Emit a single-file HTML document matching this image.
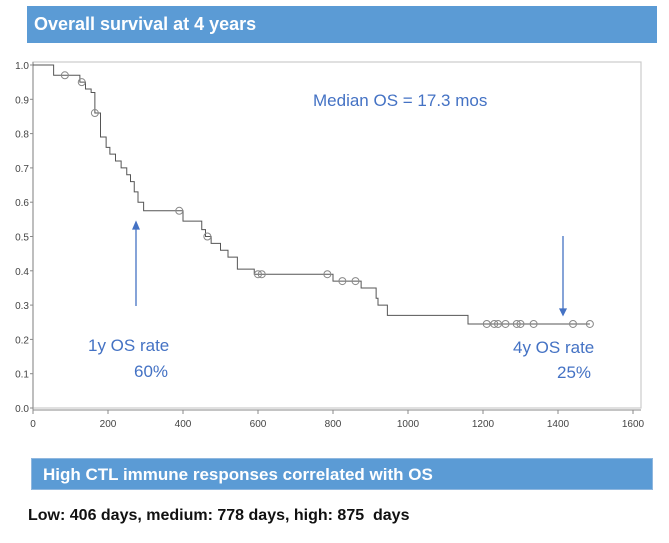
<!DOCTYPE html>
<html><head><meta charset="utf-8"><style>
body{margin:0;width:669px;height:543px;background:#fff;position:relative;overflow:hidden;font-family:"Liberation Sans",sans-serif}
.bar{position:absolute;background:#5b9bd5;color:#fff;font-weight:bold;box-sizing:border-box}
</style></head><body>
<div class="bar" style="left:27px;top:6px;width:630px;height:37px;font-size:18px;line-height:37px;padding-left:7px">Overall survival at 4 years</div>
<svg id="chart" width="669" height="543" style="position:absolute;left:0;top:0"></svg>
<div class="bar" style="left:31px;top:458px;width:622px;height:32px;font-size:17px;line-height:32px;padding-left:11px;border:1px solid #8fb7df">High CTL immune responses correlated with OS</div>
<div style="position:absolute;left:28px;top:507px;font-size:16px;font-weight:bold;color:#111">Low: 406 days, medium: 778 days, high: 875&nbsp; days</div>
<script>
const xTicks=[0,200,400,600,800,1000,1200,1400,1600];
const yTicks=["0.0","0.1","0.2","0.3","0.4","0.5","0.6","0.7","0.8","0.9","1.0"];
const stepTimes=[0,55,125,140,155,165,180,195,205,220,235,250,260,270,280,295,400,450,460,475,500,520,545,590,800,875,915,920,945,1160];
const stepSurv=[1.0,0.97,0.95,0.93,0.92,0.86,0.79,0.76,0.74,0.72,0.70,0.68,0.66,0.63,0.60,0.575,0.545,0.52,0.50,0.48,0.46,0.44,0.405,0.39,0.37,0.35,0.32,0.30,0.27,0.245];
const censorTimes=[85,130,165,390,465,600,610,785,825,860,1210,1230,1240,1260,1290,1300,1335,1440,1485];
const endTime=1485;
const NS="http://www.w3.org/2000/svg";
const svg=document.getElementById('chart');
const X=t=>33+t*600/1600, Y=v=>408-v*343;
function mk(tag,attrs,parent){const e=document.createElementNS(NS,tag);for(const k in attrs)e.setAttribute(k,attrs[k]);(parent||svg).appendChild(e);return e;}
function survAt(t){let s=1;for(let i=0;i<stepTimes.length;i++)if(stepTimes[i]<=t)s=stepSurv[i];return s;}
const frame=mk('rect',{x:33,y:62,width:608,height:346,fill:'none',stroke:'#ccc','stroke-width':1.2});


const yax=mk('line',{x1:33,y1:62,x2:33,y2:410,stroke:'#888'});


const xax=mk('line',{x1:33,y1:410,x2:641,y2:410,stroke:'#888'});


xTicks.forEach(t=>{mk('line',{x1:X(t),y1:410,x2:X(t),y2:414,stroke:'#888'});
 const tx=mk('text',{x:X(t),y:427,'text-anchor':'middle','font-size':10,fill:'#444'});tx.textContent=t;
 
 });
yTicks.forEach((l,i)=>{const v=parseFloat(l);mk('line',{x1:30,y1:Y(v),x2:33,y2:Y(v),stroke:'#888'});
 const tx=mk('text',{x:29,y:Y(v)+4,'text-anchor':'end','font-size':10,fill:'#444'});tx.textContent=l;
 
 });
let d='M'+X(0)+','+Y(stepSurv[0]);
for(let i=1;i<stepTimes.length;i++){d+=' H'+X(stepTimes[i])+' V'+Y(stepSurv[i]);}
d+=' H'+X(endTime);
const curve=mk('path',{d:d,fill:'none',stroke:'#555','stroke-width':1});


censorTimes.forEach(t=>{const c=mk('circle',{cx:X(t),cy:Y(survAt(t)),r:3.5,fill:'none',stroke:'#888','stroke-width':1});
 
 });
function txt(x,y,s,name,anchor){const t=mk('text',{x:x,y:y,'font-size':17,fill:'#4472c4','text-anchor':anchor||'start'});t.textContent=s;
 
 }
txt(313,106,'Median OS = 17.3 mos','median-os-label');
txt(88,351,'1y OS rate','one-year-label');txt(134,377,'60%','one-year-value');
txt(513,353,'4y OS rate','four-year-label');txt(557,378,'25%','four-year-value');
const a1=mk('path',{d:'M136,306 V226 M133,229 L136,222 L139,229 Z',stroke:'#4472c4','stroke-width':1.3,fill:'#4472c4'});


const a2=mk('path',{d:'M563,236 V313 M560,309 L563,315 L566,309 Z',stroke:'#4472c4','stroke-width':1.3,fill:'#4472c4'});


</script>
</body></html>
